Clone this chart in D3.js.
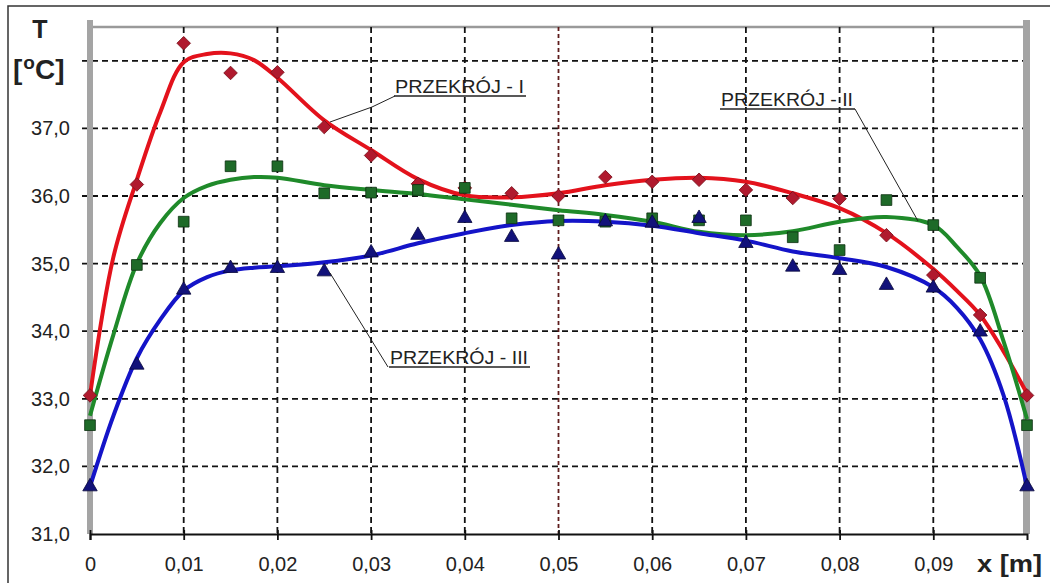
<!DOCTYPE html>
<html><head><meta charset="utf-8">
<script src="https://cdn.jsdelivr.net/npm/d3@7"></script>
<style>
body{margin:0;background:#fff}
text{font-family:"Liberation Sans",Arial,sans-serif;fill:#222}
</style>
</head><body>
<svg id="chart" width="1050" height="583"></svg>
<script>
// ---- data ----
const xPoints = [0,0.005,0.01,0.015,0.02,0.025,0.03,0.035,0.04,0.045,0.05,0.055,0.06,0.065,0.07,0.075,0.08,0.085,0.09,0.095,0.1];
const measI   = [33.05,36.17,38.26,37.82,37.83,37.02,36.6,36.18,36.12,36.04,36.0,36.28,36.21,36.24,36.09,35.97,35.96,35.42,34.83,34.24,33.05];
const measII  = [32.61,34.98,35.62,36.44,36.44,36.04,36.05,36.09,36.12,35.67,35.64,35.62,35.67,35.64,35.64,35.39,35.2,35.94,35.57,34.79,32.61];
const measIII = [31.7,33.5,34.61,34.93,34.93,34.88,35.16,35.42,35.67,35.39,35.13,35.62,35.6,35.67,35.3,34.95,34.9,34.68,34.64,33.99,31.7];

const fitX   = [0,0.0025,0.005,0.0075,0.01,0.0125,0.015,0.0175,0.02,0.025,0.03,0.035,0.04,0.045,0.05,0.055,0.06,0.065,0.07,0.075,0.08,0.085,0.09,0.0925,0.095,0.0975,0.1];
const fitI   = [33.05,35.1,36.24,37.24,37.98,38.1,38.11,38.01,37.75,37.12,36.68,36.25,36.01,35.98,36.04,36.16,36.24,36.27,36.21,36.04,35.82,35.45,34.92,34.6,34.24,33.7,33.08];
const fitII  = [32.75,33.95,35.0,35.6,35.97,36.15,36.24,36.28,36.27,36.16,36.09,36.03,35.95,35.87,35.79,35.72,35.62,35.47,35.42,35.48,35.62,35.69,35.57,35.25,34.82,33.85,32.7];
const fitIII = [31.7,32.75,33.6,34.17,34.6,34.8,34.9,34.94,34.96,35.02,35.12,35.3,35.45,35.57,35.63,35.62,35.56,35.45,35.34,35.18,35.08,34.95,34.65,34.35,33.88,33.05,31.7];

const xTicks = [0,0.01,0.02,0.03,0.04,0.05,0.06,0.07,0.08,0.09];
const xTickLabels = ["0","0,01","0,02","0,03","0,04","0,05","0,06","0,07","0,08","0,09"];
const yTicks = [31,32,33,34,35,36,37];
const yTickLabels = ["31,0","32,0","33,0","34,0","35,0","36,0","37,0"];
const yGrid = [32,33,34,35,36,37,38];
const seriesNames = ["PRZEKRÓJ - I","PRZEKRÓJ - II","PRZEKRÓJ - III"];

// ---- drawing ----
const svg = d3.select("#chart");
const x = d3.scaleLinear().domain([0,0.1]).range([90,1027]);
const y = d3.scaleLinear().domain([31,38.5]).range([534,27]);

// outer frame
svg.append("rect").attr("x",8).attr("y",6).attr("width",1100).attr("height",640)
  .attr("fill","none").attr("stroke","#333").attr("stroke-width",1.5);

// plot top edge
svg.append("line").attr("x1",x(0)).attr("x2",x(0.1)).attr("y1",y(38.5)).attr("y2",y(38.5))
  .attr("stroke","#9a9a9a").attr("stroke-width",2.5);

// horizontal grid
svg.append("g").selectAll("line").data(yGrid).join("line")
  .attr("x1",82).attr("x2",x(0.1)-3).attr("y1",d=>y(d)).attr("y2",d=>y(d))
  .attr("stroke","#111").attr("stroke-width",1.8).attr("stroke-dasharray","6,4");

// vertical grid
svg.append("g").selectAll("line").data(xTicks.filter(d=>d>0)).join("line")
  .attr("x1",d=>x(d)).attr("x2",d=>x(d)).attr("y1",y(38.5)).attr("y2",y(31))
  .attr("stroke",d=>Math.abs(d-0.05)<1e-9?"#5e1c1c":"#111")
  .attr("stroke-width",1.8)
  .attr("stroke-dasharray",d=>Math.abs(d-0.05)<1e-9?"4,3":"6,4");

// side walls
svg.append("rect").attr("x",x(0)-3).attr("y",20).attr("width",6).attr("height",y(31)-20)
  .attr("fill","#a4a4a4");
svg.append("rect").attr("x",x(0.1)-4).attr("y",20).attr("width",7).attr("height",y(31)-20)
  .attr("fill","#a4a4a4");

// x axis
const xAxis = d3.axisBottom(x).tickValues(xTicks)
  .tickFormat((d,i)=>xTickLabels[i]).tickSize(6).tickPadding(17);
const gx = svg.append("g").attr("transform",`translate(0,${y(31)})`).call(xAxis);
gx.select(".domain").attr("stroke","#111").attr("stroke-width",2);
gx.selectAll(".tick line").attr("stroke","#111").attr("stroke-width",1.8).attr("y1",-4);
gx.selectAll(".tick text").attr("font-size",20).attr("fill","#222");

// y axis labels
const yAxis = d3.axisLeft(y).tickValues(yTicks)
  .tickFormat((d,i)=>yTickLabels[i]).tickSize(0).tickPadding(20);
const gy = svg.append("g").attr("transform",`translate(${x(0)},0)`).call(yAxis);
gy.select(".domain").remove();
gy.selectAll(".tick text").attr("font-size",20).attr("fill","#222");

// axis titles
svg.append("text").attr("x",40).attr("y",38).attr("text-anchor","middle")
  .attr("font-size",25).attr("font-weight","bold").attr("fill","#111").text("T");
const tc = svg.append("text").attr("x",13).attr("y",79)
  .attr("font-size",28).attr("font-weight","bold").attr("fill","#111");
tc.append("tspan").text("[");
tc.append("tspan").attr("font-size",19).attr("dy",-10).attr("dx",1).text("o");
tc.append("tspan").attr("dy",10).text("C]");
svg.append("text").attr("x",977).attr("y",572)
  .attr("font-size",24).attr("font-weight","bold").attr("fill","#111")
  .attr("textLength",65).attr("lengthAdjust","spacingAndGlyphs").text("x [m]");

// curves
const series = [
  {fit:fitI, meas:measI, line:"#e3121c", mark:"#b01a2e", stroke:"#7a0f1a", sym:d3.symbolSquare, size:92, rot:45},
  {fit:fitII, meas:measII, line:"#1f8a2a", mark:"#1e6a28", stroke:"#0d2e10", sym:d3.symbolSquare, size:115, rot:0},
  {fit:fitIII, meas:measIII, line:"#1414c8", mark:"#12127a", stroke:"#08083a", sym:d3.symbolTriangle, size:90, rot:0}
];
const lineGen = d3.line().x(d=>x(d[0])).y(d=>y(d[1])).curve(d3.curveCatmullRom.alpha(0.5));
series.forEach(s=>{
  svg.append("path").datum(fitX.map((v,i)=>[v,s.fit[i]]))
    .attr("d",lineGen).attr("fill","none").attr("stroke",s.line).attr("stroke-width",4)
    .attr("stroke-linejoin","round");
});
series.forEach(s=>{
  svg.append("g").selectAll("path").data(xPoints.map((v,i)=>[v,s.meas[i]])).join("path")
    .attr("transform",d=>`translate(${x(d[0])},${y(d[1])}) rotate(${s.rot})`)
    .attr("d",d3.symbol().type(s.sym).size(s.size))
    .attr("fill",s.mark).attr("stroke",s.stroke).attr("stroke-width",0.8);
});

// annotations
const ann = [
  {name:seriesNames[0], tx:395, ty:93, w:129, lx:[395,372,330], ly:[96,107,122]},
  {name:seriesNames[1], tx:721, ty:106, w:132, lx:[855,918], ly:[109,221]},
  {name:seriesNames[2], tx:390, ty:364, w:138, lx:[388,330], ly:[367,273]}
];
ann.forEach(a=>{
  svg.append("text").attr("x",a.tx).attr("y",a.ty).attr("font-size",18).attr("fill","#222")
    .attr("textLength",a.w).attr("lengthAdjust","spacingAndGlyphs").text(a.name);
  const uy = a.ty+3;
  svg.append("line").attr("x1",a.tx-1).attr("x2",a.tx+a.w+2).attr("y1",uy).attr("y2",uy)
    .attr("stroke","#222").attr("stroke-width",1.3);
  svg.append("polyline").attr("points",a.lx.map((v,i)=>v+","+a.ly[i]).join(" "))
    .attr("fill","none").attr("stroke","#222").attr("stroke-width",1);
});
</script>
</body></html>
